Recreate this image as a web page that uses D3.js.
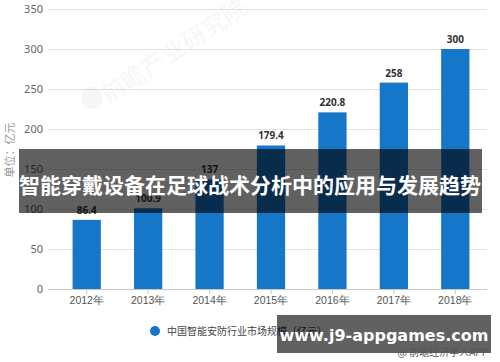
<!DOCTYPE html>
<html>
<head>
<meta charset="utf-8">
<style>
  body { margin: 0; background: #fff; font-family: "Noto Sans CJK SC", "Microsoft YaHei", sans-serif; }
  svg { display: block; }
</style>
<script src="https://cdn.jsdelivr.net/npm/d3@7"></script>
</head>
<body>
<svg id="chart"></svg>
<script>
  // data
  let years = ["2012年", "2013年", "2014年", "2015年", "2016年", "2017年", "2018年"]
  let values = [86.4, 100.9, 137, 179.4, 220.8, 258, 300]
  let yTicks = [0, 50, 100, 150, 200, 250, 300, 350]
  let seriesName = "中国智能安防行业市场规模（亿元）"
  let title = "智能穿戴设备在足球战术分析中的应用与发展趋势"
  let site = "www.j9-appgames.com"

  let width = 500, height = 362
  let margin = { top: 9, left: 56, right: 14, bottom: 73 }
  let barColor = "#1677c9"

  let svg = d3.select("#chart").attr("width", width).attr("height", height)

  let x = d3.scaleBand()
    .domain(years)
    .range([margin.left, width - margin.right])
    .paddingInner(0.54)
    .paddingOuter(0.27)

  let y = d3.scaleLinear()
    .domain([0, 350])
    .range([height - margin.bottom, margin.top])

  // grid lines
  svg.append("g")
    .selectAll("line")
    .data(yTicks)
    .join("line")
    .attr("x1", 48).attr("x2", 487)
    .attr("y1", d => y(d) + 0.5).attr("y2", d => y(d) + 0.5)
    .attr("stroke", d => d === 0 ? "#c8c8c8" : "#e3e3e3")
    .attr("stroke-width", 1)

  // faint watermark
  svg.append("circle")
    .attr("cx", 92).attr("cy", 98).attr("r", 11)
    .attr("fill", "#000").attr("fill-opacity", 0.035)
  svg.append("text")
    .attr("transform", "translate(108,104) rotate(-33)")
    .attr("font-size", 24)
    .attr("font-weight", "bold")
    .attr("fill", "#000")
    .attr("fill-opacity", 0.04)
    .text("前瞻产业研究院")

  // y tick labels
  let yAxis = d3.axisLeft(y).tickValues(yTicks).tickSize(0).tickPadding(5)
  svg.append("g")
    .attr("transform", `translate(${48},0)`)
    .call(yAxis)
    .call(g => g.select(".domain").remove())
    .call(g => g.selectAll("text")
      .attr("font-size", 11)
      .attr("fill", "#666")
      .attr("font-family", "'Noto Sans', sans-serif"))

  // y axis title
  svg.append("text")
    .attr("transform", "translate(14,150) rotate(-90)")
    .attr("text-anchor", "middle")
    .attr("font-size", 11)
    .attr("fill", "#999")
    .text("单位：亿元")

  // x axis
  let xAxis = d3.axisBottom(x).tickSize(5).tickPadding(3)
  svg.append("g")
    .attr("transform", `translate(0,${y(0)})`)
    .call(xAxis)
    .call(g => g.select(".domain").remove())
    .call(g => g.selectAll("line").attr("stroke", "#c8c8c8"))
    .call(g => g.selectAll("text")
      .attr("font-size", 10.5)
      .attr("fill", "#555"))

  // bars
  svg.append("g")
    .selectAll("rect")
    .data(values)
    .join("rect")
    .attr("x", (d, i) => x(years[i]))
    .attr("y", d => y(d))
    .attr("width", x.bandwidth())
    .attr("height", d => y(0) - y(d))
    .attr("fill", barColor)

  // value labels
  svg.append("g")
    .selectAll("text")
    .data(values)
    .join("text")
    .attr("x", (d, i) => x(years[i]) + x.bandwidth() / 2)
    .attr("y", d => y(d) - 6)
    .attr("text-anchor", "middle")
    .attr("font-size", 10)
    .attr("font-weight", "bold")
    .attr("fill", "#333")
    .attr("font-family", "'Noto Sans', sans-serif")
    .text(d => d)

  // legend
  svg.append("circle")
    .attr("cx", 155).attr("cy", 331).attr("r", 5)
    .attr("fill", barColor)
  svg.append("text")
    .attr("x", 167).attr("y", 335)
    .attr("font-size", 10)
    .attr("fill", "#444")
    .text(seriesName)

  // title overlay band
  svg.append("rect")
    .attr("x", 19).attr("y", 149)
    .attr("width", 463).attr("height", 64)
    .attr("fill", "#000").attr("fill-opacity", 0.62)
  svg.append("text")
    .attr("x", 250).attr("y", 193)
    .attr("text-anchor", "middle")
    .attr("font-size", 21)
    .attr("font-weight", "bold")
    .attr("fill", "#fff")
    .text(title)

  // site overlay band
  svg.append("rect")
    .attr("x", 277).attr("y", 315)
    .attr("width", 214).attr("height", 38)
    .attr("fill", "#000").attr("fill-opacity", 0.62)
  svg.append("text")
    .attr("x", 384).attr("y", 341)
    .attr("text-anchor", "middle")
    .attr("font-size", 16)
    .attr("font-weight", "bold")
    .attr("fill", "#fff")
    .attr("font-family", "'DejaVu Sans', sans-serif")
    .text(site)

  svg.append("text")
    .attr("x", 488).attr("y", 356)
    .attr("text-anchor", "end")
    .attr("font-size", 10)
    .attr("fill", "#555")
    .text("@ 前瞻经济学人APP")
</script>
</body>
</html>
